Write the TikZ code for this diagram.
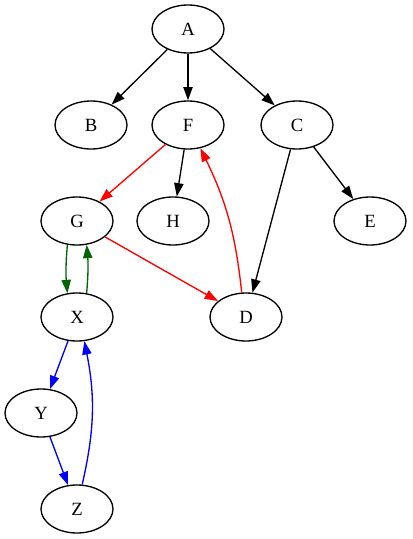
\documentclass[tikz,border=0pt]{standalone}
\usepackage{fontspec}
\setmainfont{Liberation Serif}
\usetikzlibrary{arrows.meta,shapes.geometric}
\definecolor{gvgreen}{RGB}{0,100,0}
\tikzset{
    state/.style={draw,ellipse,line width=1pt,minimum width=54pt,minimum height=36pt,
        inner sep=0pt,font=\fontsize{14}{16}\selectfont},
    link/.style={-{Triangle[length=10pt,width=7pt]},line width=1pt}
}

\begin{document}
\begin{tikzpicture}[x=0.75pt,y=0.75pt]
    \useasboundingbox (0,0) rectangle (412,-539);
    % place the states
    \node[state] (A) at (188,-29) {A};
    \node[state] (B) at (91,-125) {B};
    \node[state] (F) at (188,-125) {F};
    \node[state] (C) at (297,-125) {C};
    \node[state] (G) at (77,-221) {G};
    \node[state] (H) at (173,-221) {H};
    \node[state] (E) at (370,-221) {E};
    \node[state] (X) at (77,-317) {X};
    \node[state] (D) at (246,-317) {D};
    \node[state] (Y) at (41,-413) {Y};
    \node[state] (Z) at (77,-509) {Z};
    % black links
    \foreach \a/\b in {A/B,A/F,A/C,F/H,C/D,C/E}
        \draw[link] (\a) -- (\b);
    % red links
    \draw[link,red] (F) -- (G);
    \draw[link,red] (G) -- (D);
    \draw[link,red] (D.100) to[bend right=10] (F.-62);
    % green pair between G and X
    \draw[link,gvgreen] (G.248) to[bend right=5] (X.112);
    \draw[link,gvgreen] (X.68) to[bend right=5] (G.292);
    % blue cycle
    \draw[link,blue] (X) -- (Y);
    \draw[link,blue] (Y) -- (Z);
    \draw[link,blue] (Z.78) to[bend right=12] (X.-73);
\end{tikzpicture}
\end{document}
